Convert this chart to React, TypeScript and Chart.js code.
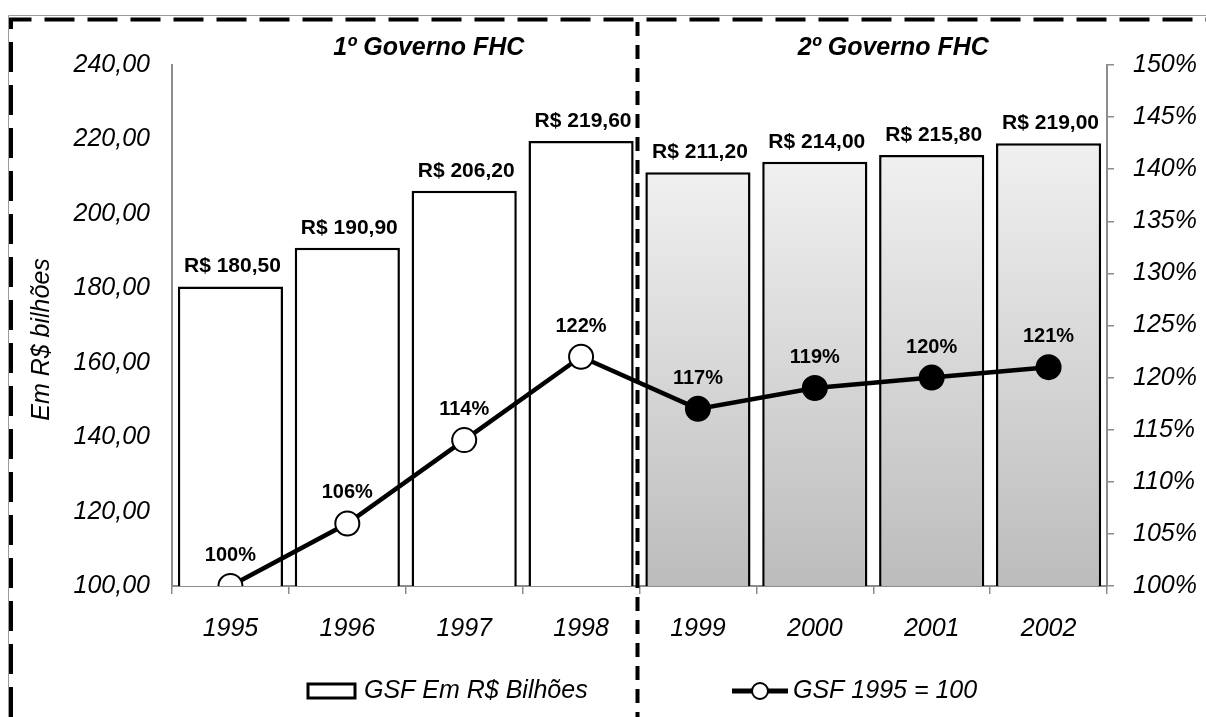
import React, { useEffect, useRef } from "react";
import { Chart, registerables } from "chart.js";

Chart.register(...registerables);

const years = ["1995", "1996", "1997", "1998", "1999", "2000", "2001", "2002"];
const gsfBillions = [180.5, 190.9, 206.2, 219.6, 211.2, 214.0, 215.8, 219.0];
const gsfIndex = [100, 106, 114, 122, 117, 119, 120, 121];
const leftAxis = { min: 100, max: 240, step: 20 };
const rightAxis = { min: 100, max: 150, step: 5 };
const periodTitles = ["1º Governo FHC", "2º Governo FHC"];
const legendLabels = ["GSF Em R$ Bilhões", "GSF 1995 = 100"];
const yAxisTitle = "Em R$ bilhões";
const secondTermStart = 4;

const FONT = "'Liberation Sans', Arial, Helvetica, sans-serif";
const AXIS_GREY = "#8c8c8c";

const fmtMoney = (v: number) => "R$ " + v.toFixed(2).replace(".", ",");
const fmtLeft = (v: number) => v.toFixed(2).replace(".", ",");

const decorPlugin = {
  id: "decor",
  beforeDraw(chart: any) {
    const ctx = chart.ctx;
    const W = chart.width;
    const H = chart.height;
    ctx.save();
    ctx.fillStyle = "#fff";
    ctx.fillRect(0, 0, W, H);
    // thin grey frame
    ctx.strokeStyle = "#9a9a9a";
    ctx.lineWidth = 1;
    ctx.beginPath();
    ctx.moveTo(8.5, H);
    ctx.lineTo(8.5, 15.5);
    ctx.lineTo(W, 15.5);
    ctx.stroke();
    // thick dashed frame
    ctx.strokeStyle = "#000";
    ctx.lineWidth = 4;
    ctx.setLineDash([30, 13]);
    ctx.beginPath();
    ctx.moveTo(11, H);
    ctx.lineTo(11, 19.5);
    ctx.lineTo(W, 19.5);
    ctx.stroke();
    ctx.restore();
  },
  afterDatasetsDraw(chart: any) {
    const ctx = chart.ctx;
    const xs = chart.scales.x;
    ctx.save();
    // bar labels
    const barMeta = chart.getDatasetMeta(0);
    ctx.font = `bold 21px ${FONT}`;
    ctx.fillStyle = "#000";
    ctx.textAlign = "center";
    ctx.textBaseline = "alphabetic";
    barMeta.data.forEach((bar: any, i: number) => {
      ctx.fillText(fmtMoney(gsfBillions[i]), bar.x + 2, bar.y - 14);
    });
    // line labels
    const lineMeta = chart.getDatasetMeta(1);
    ctx.font = `bold 20px ${FONT}`;
    lineMeta.data.forEach((pt: any, i: number) => {
      ctx.fillText(gsfIndex[i] + "%", pt.x, pt.y - 25);
    });
    // divider
    const divX =
      (xs.getPixelForValue(secondTermStart - 1) + xs.getPixelForValue(secondTermStart)) / 2 - 2;
    ctx.strokeStyle = "#000";
    ctx.lineWidth = 4;
    ctx.setLineDash([14, 9]);
    ctx.beginPath();
    ctx.moveTo(divX, 22);
    ctx.lineTo(divX, chart.height);
    ctx.stroke();
    ctx.setLineDash([]);
    // period titles
    ctx.font = `italic bold 25px ${FONT}`;
    ctx.textAlign = "center";
    const t1 = (xs.getPixelForValue(0) + xs.getPixelForValue(secondTermStart - 1)) / 2 + 23;
    const t2 =
      (xs.getPixelForValue(secondTermStart) + xs.getPixelForValue(years.length - 1)) / 2 + 20;
    ctx.fillText(periodTitles[0], t1, 55);
    ctx.fillText(periodTitles[1], t2, 55);
    // y axis title
    ctx.save();
    ctx.translate(42, (chart.chartArea.top + chart.chartArea.bottom) / 2 + 14);
    ctx.rotate(-Math.PI / 2);
    ctx.font = `italic 25px ${FONT}`;
    ctx.textBaseline = "middle";
    ctx.fillText(yAxisTitle, 0, 0);
    ctx.restore();
    // legend
    const ly = 691;
    ctx.lineWidth = 3;
    ctx.strokeStyle = "#000";
    ctx.fillStyle = "#fff";
    ctx.fillRect(308, ly - 7, 47, 14);
    ctx.strokeRect(308, ly - 7, 47, 14);
    ctx.fillStyle = "#000";
    ctx.font = `italic 25px ${FONT}`;
    ctx.textAlign = "left";
    ctx.textBaseline = "middle";
    ctx.fillText(legendLabels[0], 364, ly);
    ctx.lineWidth = 5;
    ctx.beginPath();
    ctx.moveTo(732, ly);
    ctx.lineTo(788, ly);
    ctx.stroke();
    ctx.beginPath();
    ctx.arc(760, ly, 8, 0, Math.PI * 2);
    ctx.fillStyle = "#fff";
    ctx.fill();
    ctx.lineWidth = 2;
    ctx.stroke();
    ctx.fillStyle = "#000";
    ctx.fillText(legendLabels[1], 793, ly);
    ctx.restore();
  },
};

export default function App() {
  const ref = useRef<HTMLCanvasElement | null>(null);
  useEffect(() => {
    if (!ref.current) return;
    const barFill = (c: any) => {
      const i = c.dataIndex;
      if (i < secondTermStart) return "#ffffff";
      const chart = c.chart;
      const area = chart.chartArea;
      const ys = chart.scales.y;
      if (!area || !ys) return "#d8d8d8";
      const top = ys.getPixelForValue(gsfBillions[i]);
      const g = chart.ctx.createLinearGradient(0, top, 0, area.bottom);
      g.addColorStop(0, "#f0f0f0");
      g.addColorStop(1, "#bcbcbc");
      return g;
    };
    const chart = new Chart(ref.current, {
      type: "bar",
      data: {
        labels: years,
        datasets: [
          {
            type: "bar",
            label: legendLabels[0],
            data: gsfBillions,
            yAxisID: "y",
            backgroundColor: barFill as any,
            borderColor: "#000",
            borderWidth: 2.5,
            barPercentage: 0.9,
            categoryPercentage: 1,
            order: 1,
          },
          {
            type: "line",
            label: legendLabels[1],
            data: gsfIndex,
            yAxisID: "y1",
            borderColor: "#000",
            borderWidth: 4.5,
            pointRadius: 12,
            pointBorderWidth: 2,
            pointBorderColor: "#000",
            pointBackgroundColor: gsfIndex.map((_, i) => (i < secondTermStart ? "#fff" : "#000")),
            tension: 0,
            order: 0,
          } as any,
        ],
      },
      options: {
        responsive: false,
        animation: false,
        layout: { padding: { top: 65, left: 0, right: 0, bottom: 0 } },
        plugins: {
          legend: { display: false },
          tooltip: { enabled: false },
        },
        scales: {
          x: {
            type: "category",
            offset: true,
            grid: {
              display: true,
              drawOnChartArea: false,
              offset: true,
              tickLength: 8,
              color: AXIS_GREY,
              lineWidth: 1.5,
            },
            border: { display: true, color: AXIS_GREY, width: 2 },
            ticks: {
              color: "#000",
              font: { family: FONT, size: 25, style: "italic" },
              padding: 20,
              maxRotation: 0,
            },
            afterFit: (s: any) => {
              s.height = 131;
            },
          },
          y: {
            type: "linear",
            position: "left",
            min: leftAxis.min,
            max: leftAxis.max,
            grid: { display: false },
            border: { display: true, color: AXIS_GREY, width: 2 },
            ticks: {
              stepSize: leftAxis.step,
              color: "#000",
              font: { family: FONT, size: 25, style: "italic" },
              padding: 14,
              callback: (v: any) => fmtLeft(Number(v)),
            },
            afterFit: (s: any) => {
              s.width = 172;
            },
          },
          y1: {
            type: "linear",
            position: "right",
            min: rightAxis.min,
            max: rightAxis.max,
            grid: {
              display: true,
              drawOnChartArea: false,
              tickLength: 7,
              color: AXIS_GREY,
              lineWidth: 1.5,
            },
            border: { display: true, color: AXIS_GREY, width: 2 },
            ticks: {
              stepSize: rightAxis.step,
              color: "#000",
              font: { family: FONT, size: 25, style: "italic" },
              padding: 19,
              callback: (v: any) => Number(v) + "%",
            },
            afterFit: (s: any) => {
              s.width = 99;
            },
          },
        },
      },
      plugins: [decorPlugin],
    });
    return () => chart.destroy();
  }, []);
  return (
    <div style={{ position: "absolute", left: 0, top: 0, width: 1206, height: 717 }}>
      <canvas ref={ref} width={1206} height={717} style={{ display: "block" }} />
    </div>
  );
}
